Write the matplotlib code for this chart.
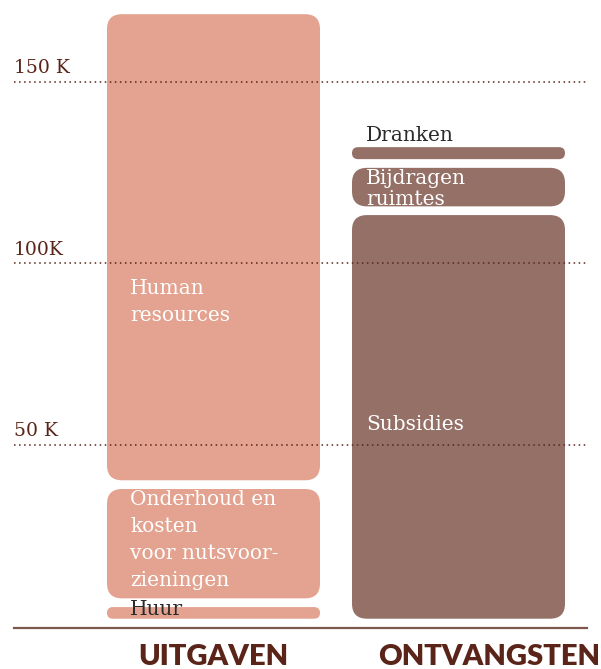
import matplotlib.pyplot as plt
from matplotlib.patches import FancyBboxPatch

# Budget in thousands of euro
columns = ["UITGAVEN", "ONTVANGSTEN"]
uitgaven_labels = ["Huur", "Onderhoud en\nkosten\nvoor nutsvoor-\nzieningen", "Human\nresources"]
uitgaven_values = [6.6, 32.5, 130.7]
ontvangsten_labels = ["Subsidies", "Bijdragen\nruimtes", "Dranken"]
ontvangsten_values = [114.5, 13.0, 5.7]
tick_values = [50, 100, 150]
tick_labels = ["50 K", "100K", "150 K"]

salmon = "#e3a390"
mauve = "#957067"
brown = "#5a2418"
ink = "#2b2b2b"

W, H = 601, 669
fig = plt.figure(figsize=(W / 100, H / 100), dpi=100)
ax = fig.add_axes([0, 0, 1, 1])

# pixel scale of both axes
px_per_k = 3.633
px_per_x = 245.0
zero_px = 626.7              # pixel row of 0 K, counted from the top
left_px = 213.5              # pixel column of the first column centre
ax.set_xlim(-left_px / px_per_x, (W - left_px) / px_per_x)
ax.set_ylim(-(H - zero_px) / px_per_k, zero_px / px_per_k)
ax.axis("off")

bar_w = 213 / px_per_x
pad = 1.2                    # gap between stacked blocks, in K
aspect = px_per_x / px_per_k


def stack(x, values, color):
    bottom = 0
    spans = []
    for v in values:
        lo = bottom + (2.2 if bottom == 0 else pad)
        hi = bottom + v - pad
        r_px = min(15, (hi - lo) * px_per_k / 2)
        box = FancyBboxPatch((x - bar_w / 2, lo), bar_w, hi - lo,
                             boxstyle=f"round,pad=0,rounding_size={r_px / px_per_x}",
                             mutation_aspect=aspect, fc=color, ec="none", zorder=2)
        ax.add_patch(box)
        spans.append((lo, hi))
        bottom += v
    return spans


left_spans = stack(0, uitgaven_values, salmon)
right_spans = stack(1, ontvangsten_values, mauve)

x_start = (14 - left_px) / px_per_x
x_end = (587 - left_px) / px_per_x

# dotted gridlines run over the blocks
for v, lab in zip(tick_values, tick_labels):
    ax.plot([x_start, x_end], [v, v], ls=(0, (1, 2.3)), lw=1.1, color=brown, zorder=3)
    ax.text(x_start, v + 1.3, lab, fontsize=13.5, family="DejaVu Serif",
            color=brown, ha="left", va="bottom")

# baseline
ax.plot([x_start, x_end], [-0.4, -0.4], lw=1.6, color="#7d574c", zorder=3)

txt_x0 = -bar_w / 2 + 23 / px_per_x
txt_x1 = 1 - bar_w / 2 + 14 / px_per_x
serif = dict(family="DejaVu Serif", fontsize=14.5, ha="left", zorder=4)

# Uitgaven labels
lo, hi = left_spans[0]
ax.text(txt_x0, hi - 0.8, uitgaven_labels[0], color=ink, va="center", **serif)
lo, hi = left_spans[1]
ax.text(txt_x0, hi - 0.2, uitgaven_labels[1], color="white", va="top",
        linespacing=1.53, **serif)
lo, hi = left_spans[2]
ax.text(txt_x0, hi - 73, uitgaven_labels[2], color="white", va="top",
        linespacing=1.53, **serif)

# Ontvangsten labels
lo, hi = right_spans[0]
ax.text(txt_x1, lo + 0.48 * (hi - lo), ontvangsten_labels[0], color="white",
        va="center", **serif)
lo, hi = right_spans[1]
ax.text(txt_x1, hi - 0.2, ontvangsten_labels[1], color="white", va="top",
        linespacing=1.13, **serif)
lo, hi = right_spans[2]
ax.text(txt_x1, hi + 0.6, ontvangsten_labels[2], color=ink, va="bottom", **serif)

# column titles
ax.text(0, -8.4, columns[0], family="Lato", fontweight="heavy", fontsize=21,
        color=brown, ha="center", va="center")
ax.text(1 + (378 - 458.5) / px_per_x, -8.4, columns[1], family="Lato", fontweight="heavy",
        fontsize=21, color=brown, ha="left", va="center")

fig.savefig("out.png", dpi=100, facecolor="white")
